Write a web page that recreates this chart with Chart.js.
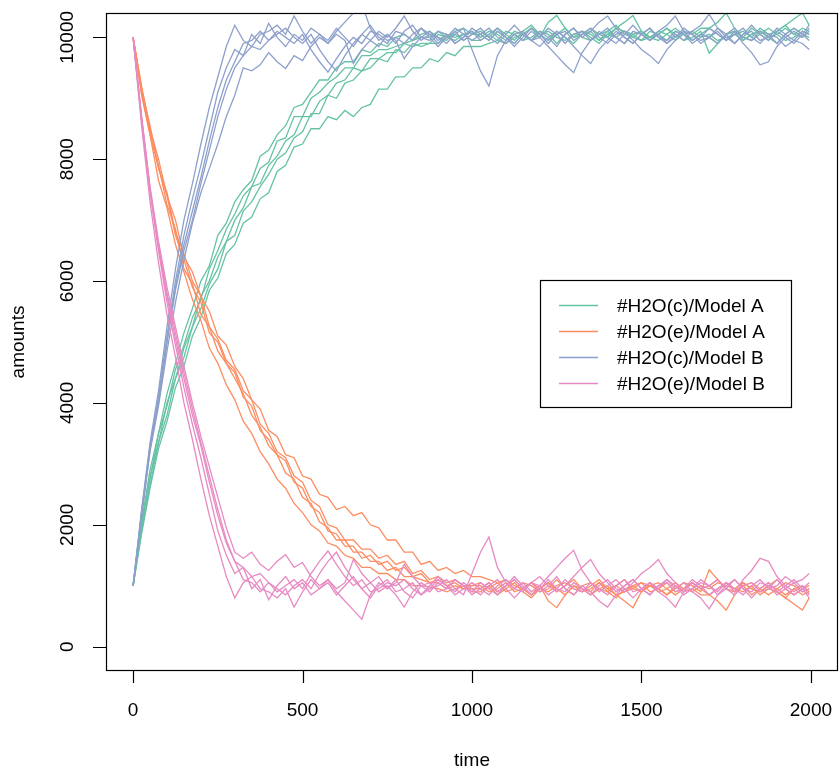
<!DOCTYPE html>
<html><head><meta charset="utf-8">
<script src="https://cdn.jsdelivr.net/npm/chart.js@4.4.1/dist/chart.umd.min.js"></script>
<style>html,body{margin:0;padding:0;background:#fff;}canvas{display:block;}</style>
</head><body>
<canvas id="c" width="840" height="772"></canvas>
<script>
const time = [0,25,50,75,100,125,150,175,200,225,250,275,300,325,350,375,400,425,450,475,500,525,550,575,600,625,650,675,700,725,750,775,800,825,850,875,900,925,950,975,1000,1025,1050,1075,1100,1125,1150,1175,1200,1225,1250,1275,1300,1325,1350,1375,1400,1425,1450,1475,1500,1525,1550,1575,1600,1625,1650,1675,1700,1725,1750,1775,1800,1825,1850,1875,1900,1925,1950,1975,1995];
const xTicks = [0,500,1000,1500,2000];
const yTicks = [0,2000,4000,6000,8000,10000];
const seriesNames = ["#H2O(c)/Model A","#H2O(e)/Model A","#H2O(c)/Model B","#H2O(e)/Model B"];
const seriesColors = ["#66C2A5","#FC8D62","#8DA0CB","#E78AC3"];

// Model A, H2O(c)
const cA_run1 = [1000,2050,2900,3500,4150,4650,5150,5550,6000,6250,6750,6950,7300,7500,7650,8050,8150,8400,8550,8850,8900,9100,9300,9300,9500,9600,9600,9800,9750,9900,9850,10000,10050,9950,10050,10100,10000,9950,10100,10150,10050,
10100,10000,10150,10050,9950,10100,10200,10050,9950,10050,10150,10000,10100,10050,9950,10100,10200,10050,10000,10100,9950,10050,10150,10050,9950,10000,10100,9740,9900,10050,10100,10000,10150,10050,9950,10100,10200,10050,10150,10100];
const cA_run2 = [1000,2000,2750,3500,3950,4550,4950,5400,5700,6200,6500,6850,7100,7400,7550,7850,7950,8300,8350,8700,8700,9000,9100,9250,9350,9500,9500,9700,9700,9800,9800,9850,9900,9950,10000,10000,10100,10000,9950,10050,10100,
10000,10100,10050,9950,10100,10050,10150,10000,10250,10360,10150,10000,10050,10100,9950,10050,10150,10100,10000,9950,10100,10050,10150,10000,10100,10050,10150,10150,10250,10400,10150,9950,10050,10100,10000,10050,10150,10050,10000,10100];
const cA_run3 = [1000,1950,2800,3350,4000,4400,4900,5250,5750,6000,6400,6650,7000,7200,7550,7600,7900,8050,8300,8400,8700,8700,8950,9050,9250,9300,9500,9450,9650,9650,9750,9750,9900,9850,9900,9900,10050,10000,10050,9950,10050,
10050,9950,10100,10000,9900,10050,10150,10050,9950,10100,10000,9900,10050,10150,10050,10000,10150,10250,10360,10100,10000,10050,9950,10100,10050,9950,10050,10150,10050,9950,10050,10100,10000,10150,10050,10100,10200,10300,10400,10200];
const cA_run4 = [1000,1900,2650,3350,3800,4400,4750,5250,5550,5950,6200,6650,6750,7150,7300,7550,7750,8000,8100,8350,8450,8750,8750,9050,9000,9250,9300,9450,9500,9650,9600,9800,9750,9900,9850,9900,9900,10050,10000,10050,9950,
9950,10050,9950,10100,10050,9950,10000,10100,10050,9900,10050,10150,10000,9950,10050,10100,10000,9900,10050,10100,10000,9950,10050,10150,10050,9950,10050,10000,9900,10050,10100,10000,9950,10050,10150,10050,9950,10000,10100,10050];
const cA_run5 = [1000,1850,2600,3250,3700,4250,4600,5100,5400,5850,6050,6450,6600,6950,7050,7350,7450,7800,7900,8200,8250,8500,8500,8700,8650,8800,8700,8850,8900,9150,9150,9350,9350,9500,9500,9650,9600,9750,9700,9850,9850,
9850,9900,9950,9900,10000,10050,9950,10050,10100,10000,9950,10050,10100,10000,9900,10050,10000,10100,10050,9950,10000,10100,10050,9950,10050,10100,10000,10050,9950,10000,10050,9950,10050,10100,10000,9900,10050,10150,10050,10000];

// Model A, H2O(e)
const eA_run1 = [10000,9050,8400,7650,7200,6600,6150,5700,5350,4900,4650,4300,4050,3700,3500,3200,3000,2750,2600,2350,2200,2000,1900,1700,1650,1500,1450,1300,1300,1200,1200,1100,1100,1000,1000,980,950,900,950,1000,900,
900,1000,850,950,1050,900,800,950,1050,950,850,1000,900,950,1050,900,800,950,1000,900,1050,950,850,950,1050,1000,900,1260,1100,950,900,1000,850,950,1050,900,800,950,850,900];
const eA_run2 = [10000,9100,8400,7900,7250,6850,6200,5950,5450,5250,4850,4650,4400,4150,3800,3600,3300,3150,2850,2750,2450,2350,2050,1950,1750,1750,1550,1550,1400,1400,1250,1300,1150,1150,1100,1050,1050,950,1000,950,1000,
1000,900,950,1050,900,950,850,1000,750,640,850,1000,950,900,1050,950,850,900,1000,1050,900,950,850,1000,900,950,850,850,750,600,850,1050,950,900,1000,950,850,950,1000,900];
const eA_run3 = [10000,9150,8450,7850,7400,6750,6350,5900,5650,5150,5000,4650,4500,4100,3950,3550,3400,3150,3050,2700,2600,2300,2200,1900,1850,1650,1650,1450,1500,1350,1400,1250,1300,1150,1200,1050,1100,1000,1050,950,950,
950,1050,900,1000,1100,950,850,950,1050,900,1000,1100,950,850,950,1000,850,750,640,900,1000,950,1050,900,950,1050,950,850,950,1050,950,900,1000,850,950,900,800,700,600,800];
const eA_run4 = [10000,9150,8550,7850,7450,6800,6450,6000,5750,5250,5050,4700,4550,4200,4050,3650,3500,3200,3100,2800,2700,2400,2300,2000,1950,1750,1750,1600,1600,1450,1500,1350,1400,1200,1250,1100,1150,1050,1100,1000,1000,
1050,950,1050,900,950,1050,1000,900,950,1100,950,850,1000,1050,950,900,1000,1100,950,900,1000,1050,950,850,950,1050,950,1000,1100,950,900,1000,1050,950,850,950,1050,1000,900,950];
const eA_run5 = [10000,9200,8500,8000,7400,7000,6400,6150,5750,5500,5100,4950,4600,4400,4050,3900,3550,3450,3150,3100,2800,2750,2500,2450,2250,2300,2150,2200,2000,1950,1750,1750,1550,1550,1350,1400,1250,1300,1200,1250,1150,
1150,1100,1050,1100,1000,950,1050,950,900,1000,1050,950,900,1000,1100,950,1000,900,950,1050,1000,900,950,1050,950,900,1000,950,1050,1000,950,1050,950,900,1000,1100,950,850,950,1000];

// Model B, H2O(c)
const cB_run1 = [1000,2250,3350,4200,5250,6200,7000,7600,8250,8850,9350,9850,10200,9950,9850,10050,
10100,10200,10050,10350,10100,9900,10050,9950,10150,10000,9850,10050,10200,10000,9900,10100,10050,9950,10150,10050,9900,10000,10100,9950,10050,10150,10000,9900,10050,10200,10050,9950,10100,10000,9850,10050,10150,10000,10100,10250,10350,10150,10000,9900,10050,10150,10000,9950,10100,10050,9900,10000,10150,10050,9950,10100,9900,9750,9550,9600,9850,10000,10100,10000,10150];
const cB_run2 = [1000,2200,3300,4100,5100,6000,6750,7350,7900,8500,9100,9500,9800,9700,10050,9900,
10230,10000,9850,10050,9950,10150,10050,9900,10100,10250,10400,10550,10150,9950,10050,9900,10100,10200,10000,9950,10100,10050,9900,10000,10150,10050,9950,10100,10000,9850,10000,10150,10050,9900,10050,10100,9950,10050,10150,10000,9900,10050,10100,9950,9800,9700,9570,9800,9950,10100,10050,9950,10000,10150,10050,9900,10050,10200,10050,9950,10100,10000,9900,10050,10200];
const cB_run3 = [1000,2200,3250,4050,5000,5900,6600,7150,7700,8300,8850,9300,9600,9900,9950,10100,
9950,10050,10150,10000,9900,10050,9800,9600,9450,9700,9900,10050,9950,10100,10000,10150,10350,10100,9950,10050,10000,9900,10050,10150,9800,9450,9200,9700,9950,10050,10100,9950,10000,10150,10050,9900,10050,10100,9950,10050,10150,10000,9900,10100,10050,9950,10100,10200,10350,10100,9950,10050,10000,9900,10050,10150,10000,9950,10100,10050,9900,10050,10150,10050,9950];
const cB_run4 = [1000,2150,3250,4000,5000,5850,6500,7000,7600,8150,8700,9150,9500,9700,9850,9800,
9950,10100,10000,9900,10050,9800,9600,9430,9650,9850,10000,9900,10100,10050,9950,10000,9900,10050,10150,10000,9850,10000,10150,10050,9950,10050,10150,10000,9900,10050,9950,10100,10000,9850,9700,9550,9420,9750,9950,10100,10000,9900,10050,10200,10050,9950,10050,9900,10000,10150,10050,9900,10000,10100,9950,10050,10150,10000,9900,10050,10000,9850,9950,9900,9800];
const cB_run5 = [1000,2150,3200,3950,4850,5650,6350,6950,7450,7850,8250,8700,9050,9500,9450,9550,
9750,9600,9490,9700,9620,9850,10000,9900,10050,9950,9570,9800,9950,9850,10050,9950,9650,9850,10000,10100,9950,10050,9900,10000,10100,9950,10050,10150,10000,9900,10050,9950,9850,10000,10100,10000,9850,9700,9570,9800,9950,10100,10000,9900,10050,10150,10000,9900,10050,9950,10100,10200,10380,10150,10000,9900,10050,10100,9950,10000,10150,10050,9950,10100,10050];

// Model B, H2O(e)
const eB_run1 = [10000,8550,7300,6300,5450,4750,4000,3400,2750,2150,1650,1150,800,1050,1150,950,
900,800,950,650,900,1100,950,1050,850,1000,1150,950,800,1000,1100,900,950,1050,850,950,1100,1000,900,1050,950,850,1000,1100,950,800,950,1050,900,1000,1150,950,850,1000,900,750,650,850,1000,1100,950,850,1000,1050,900,950,1100,1000,850,950,1050,900,1100,1250,1450,1400,1150,1000,900,1000,850];
const eB_run2 = [10000,8650,7450,6500,5650,4950,4250,3650,3100,2500,1900,1500,1200,1300,950,1100,
770,1000,1150,950,1050,850,950,1100,900,750,600,450,850,1050,950,1100,900,800,1000,1050,900,950,1100,1000,850,950,1050,900,1000,1150,1000,850,950,1100,950,900,1050,950,850,1000,1100,950,900,1050,1200,1300,1430,1200,1050,900,950,1050,1000,850,950,1100,950,800,950,1050,900,1000,1100,950,800];
const eB_run3 = [10000,8650,7500,6550,5750,5050,4400,3800,3300,2700,2150,1700,1400,1100,1050,900,
1050,950,850,1000,1100,950,1200,1400,1550,1300,1100,950,1050,900,1000,850,650,900,1050,950,1000,1100,950,850,1200,1550,1800,1300,1050,950,900,1050,1000,850,950,1100,950,900,1050,950,850,1000,1100,900,950,1050,900,800,650,900,1050,950,1000,1100,950,850,1000,1050,900,950,1100,950,850,950,1050];
const eB_run4 = [10000,8700,7500,6600,5800,5150,4500,3900,3350,2800,2250,1750,1400,1300,1150,1200,
1050,900,1000,1100,950,1200,1400,1570,1350,1150,1000,1100,900,950,1050,1000,1100,950,850,1000,1150,1000,850,950,1050,950,850,1000,1100,950,1050,900,1000,1150,1300,1450,1580,1250,1050,900,1000,1100,950,800,950,1050,950,1100,1000,850,950,1100,1000,900,1050,950,850,1000,1100,950,1000,1150,1050,1100,1200];
const eB_run5 = [10000,8700,7550,6650,5900,5250,4600,4000,3450,2950,2450,1950,1550,1450,1550,1350,
1250,1400,1510,1300,1380,1150,1000,1100,950,1050,1430,1200,1050,1150,950,1050,1350,1150,1000,900,1050,950,1100,1000,900,1050,950,850,1000,1100,950,1050,1150,1000,900,1000,1150,1300,1430,1200,1050,900,1000,1100,950,850,1000,1100,950,1050,900,800,620,850,1000,1100,950,900,1050,1000,850,950,1050,900,950];

const groups = [
  [cA_run1, cA_run2, cA_run3, cA_run4, cA_run5],
  [eA_run1, eA_run2, eA_run3, eA_run4, eA_run5],
  [cB_run1, cB_run2, cB_run3, cB_run4, cB_run5],
  [eB_run1, eB_run2, eB_run3, eB_run4, eB_run5]
];

const datasets = [];
groups.forEach((runs, g) => {
  runs.forEach((run, r) => {
    datasets.push({
      label: seriesNames[g] + ' ' + (r + 1),
      data: run.map((v, i) => ({x: time[i], y: v})),
      borderColor: seriesColors[g],
      borderWidth: 1.3,
      pointRadius: 0,
      tension: 0,
      fill: false,
      order: 4 - g
    });
  });
});

const FONT = '19px "Liberation Sans", Arial, Helvetica, sans-serif';

const rAxes = {
  id: 'rAxes',
  afterDraw(chart) {
    const ctx = chart.ctx;
    const a = chart.chartArea;
    const xs = chart.scales.x, ys = chart.scales.y;
    ctx.save();
    ctx.strokeStyle = '#000';
    ctx.lineWidth = 1.2;
    ctx.strokeRect(a.left + 0.5, a.top + 0.5, a.right - a.left - 1, a.bottom - a.top - 1);
    ctx.fillStyle = '#000';
    ctx.font = FONT;
    ctx.beginPath();
    xTicks.forEach(v => {
      const px = Math.round(xs.getPixelForValue(v)) + 0.5;
      ctx.moveTo(px, a.bottom); ctx.lineTo(px, a.bottom + 12);
    });
    ctx.stroke();
    ctx.textAlign = 'center'; ctx.textBaseline = 'middle';
    xTicks.forEach(v => ctx.fillText(String(v), xs.getPixelForValue(v), 711));
    ctx.beginPath();
    yTicks.forEach(v => {
      const py = Math.round(ys.getPixelForValue(v)) + 0.5;
      ctx.moveTo(a.left, py); ctx.lineTo(a.left - 13, py);
    });
    ctx.stroke();
    yTicks.forEach(v => {
      ctx.save();
      ctx.translate(68, ys.getPixelForValue(v));
      ctx.rotate(-Math.PI / 2);
      ctx.fillText(String(v), 0, 0);
      ctx.restore();
    });
    ctx.fillText('time', (a.left + a.right) / 2, 761);
    ctx.save();
    ctx.translate(19, (a.top + a.bottom) / 2);
    ctx.rotate(-Math.PI / 2);
    ctx.fillText('amounts', 0, 0);
    ctx.restore();
    ctx.lineWidth = 1.2;
    ctx.strokeStyle = '#000';
    ctx.strokeRect(540.5, 280.5, 251, 127);
    const rows = [305.5, 331.5, 357.5, 383.5];
    ctx.textAlign = 'left';
    seriesNames.forEach((name, i) => {
      ctx.strokeStyle = seriesColors[i];
      ctx.lineWidth = 1.6;
      ctx.beginPath();
      ctx.moveTo(559, rows[i]); ctx.lineTo(598, rows[i]);
      ctx.stroke();
      ctx.fillStyle = '#000';
      ctx.fillText(name, 617, rows[i] + 1);
    });
    ctx.restore();
  }
};

new Chart(document.getElementById('c'), {
  type: 'line',
  data: {datasets},
  options: {
    responsive: false,
    animation: false,
    devicePixelRatio: 1,
    layout: {padding: {left: 106, top: 13, right: 2, bottom: 101}},
    scales: {
      x: {type: 'linear', min: -80, max: 2080, display: false},
      y: {type: 'linear', min: -400, max: 10400, display: false}
    },
    plugins: {legend: {display: false}, tooltip: {enabled: false}}
  },
  plugins: [rAxes]
});
</script>
</body></html>
